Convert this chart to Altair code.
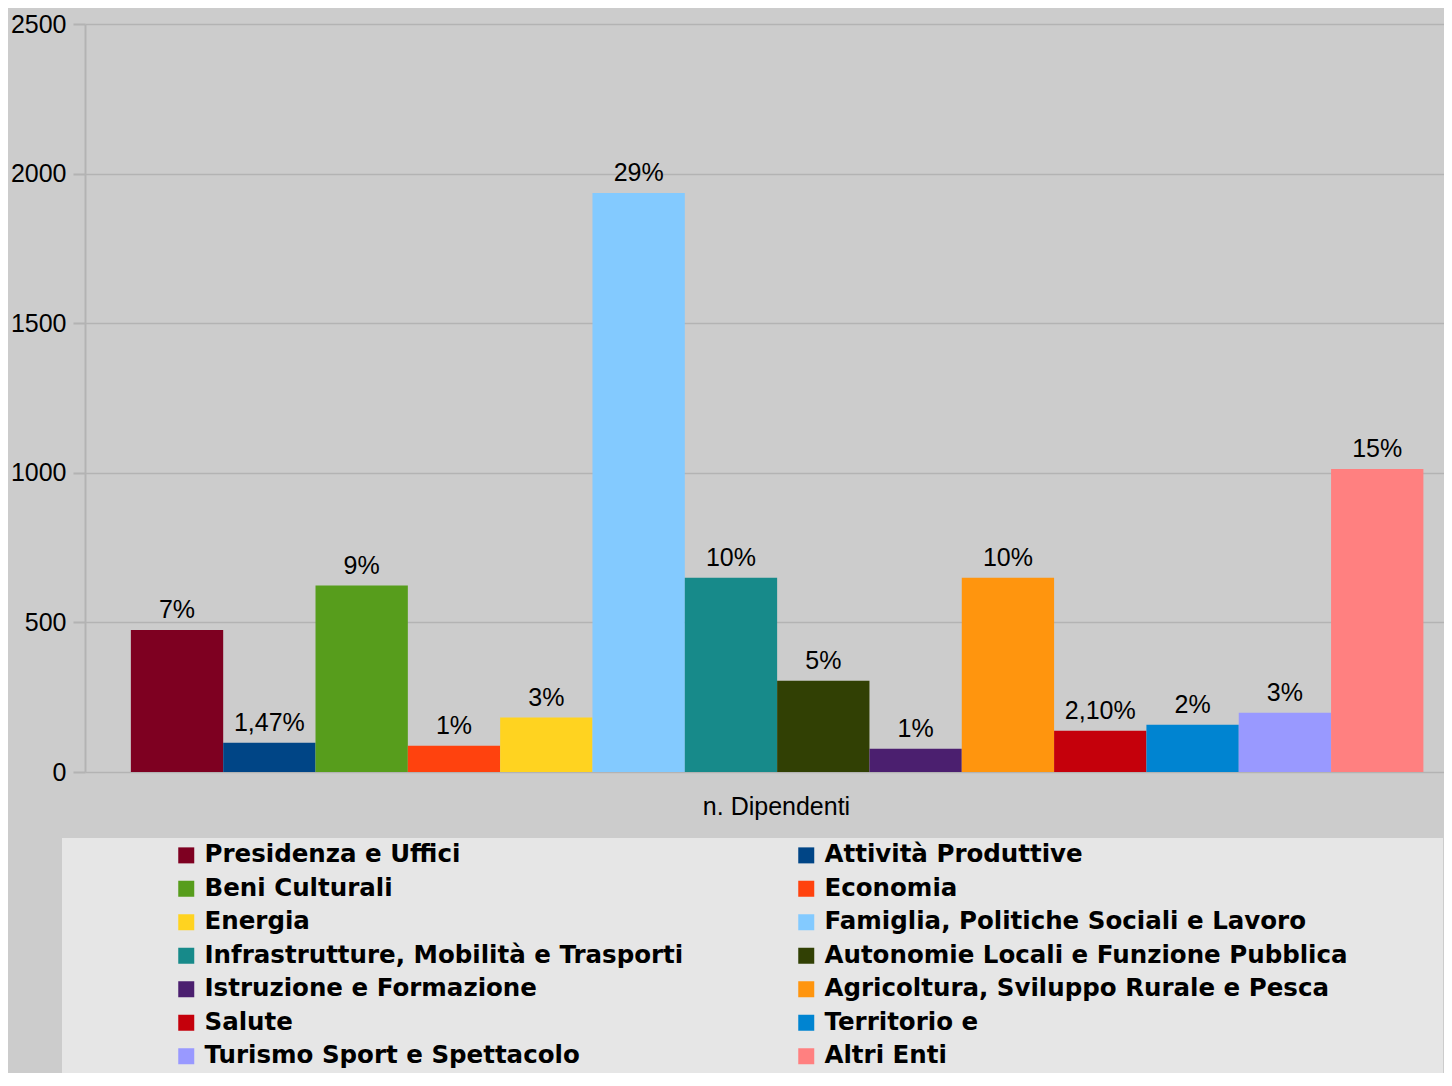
import altair as alt
import pandas as pd

departments = [
    "Presidenza e Uffici",
    "Attività Produttive",
    "Beni Culturali",
    "Economia",
    "Energia",
    "Famiglia, Politiche Sociali e Lavoro",
    "Infrastrutture, Mobilità e Trasporti",
    "Autonomie Locali e Funzione Pubblica",
    "Istruzione e Formazione",
    "Agricoltura, Sviluppo Rurale e Pesca",
    "Salute",
    "Territorio e",
    "Turismo Sport e Spettacolo",
    "Altri Enti",
]
employees = [475, 98, 623, 88, 182, 1935, 649, 305, 78, 649, 138, 158, 198, 1013]
pct_labels = ["7%", "1,47%", "9%", "1%", "3%", "29%", "10%", "5%", "1%", "10%",
              "2,10%", "2%", "3%", "15%"]
colors = ["#7e0021", "#004586", "#579d1c", "#ff420e", "#ffd320", "#83caff",
          "#178a8a", "#314004", "#4b1f6f", "#ff950e", "#c5000b", "#0084d1",
          "#9999ff", "#ff8080"]
y_ticks = [0, 500, 1000, 1500, 2000, 2500]
x_title = "n. Dipendenti"

# legend is filled column by column; reorder so it reads row by row
legend_order = departments[0::2] + departments[1::2]
legend_colors = colors[0::2] + colors[1::2]

df = pd.DataFrame({"dept": departments, "value": employees, "pct": pct_labels})

grid = "#b3b3b3"
y_scale = alt.Scale(domain=[0, 2500], nice=False)

x_enc = alt.X(
    "dept:N",
    sort=departments,
    scale=alt.Scale(paddingInner=0, paddingOuter=0.36, align=0.69),
    axis=alt.Axis(
        labels=False, ticks=False, domain=False, title=x_title,
        titleFont="Liberation Sans", titleFontSize=25, titleFontWeight="normal",
        titleColor="black", titlePadding=22, titleX=691, titleAlign="center",
        titleAnchor="start",
    ),
)
y_enc = alt.Y(
    "value:Q",
    scale=y_scale,
    axis=alt.Axis(
        values=y_ticks, format="d", title=None, tickSize=12, tickColor=grid,
        tickWidth=2, gridColor=grid, gridWidth=1.5, domainColor=grid,
        domainWidth=2, labelFont="Liberation Sans", labelFontSize=25,
        labelColor="black", labelPadding=7,
    ),
)

bars = alt.Chart(df).mark_bar(strokeWidth=0).encode(
    x=x_enc,
    y=y_enc,
    color=alt.Color(
        "dept:N",
        scale=alt.Scale(domain=legend_order, range=legend_colors),
        legend=alt.Legend(
            orient="none", legendX=-23, legendY=814, columns=2,
            title=" ", titleOrient="right", titleFontSize=1, titlePadding=90,
            fillColor="#e6e6e6", padding=5, symbolType="square", symbolSize=256,
            symbolStrokeWidth=0, symbolOpacity=1, symbolOffset=107,
            labelFont="DejaVu Sans", labelFontWeight="bold", labelFontSize=24.5,
            labelColor="black", labelOffset=6, rowPadding=8.5, columnPadding=3,
            labelLimit=2000,
        ),
    ),
)

labels = alt.Chart(df).mark_text(
    dy=-12, baseline="alphabetic", fontSize=25, font="Liberation Sans", color="black"
).encode(
    x=alt.X("dept:N", sort=departments),
    y=alt.Y("value:Q", scale=y_scale),
    text="pct:N",
)

chart = (
    alt.layer(bars, labels)
    .properties(width=1359, height=748,
                padding={"left": 2, "top": 4, "right": 0, "bottom": 0})
    .configure(background="#cccccc")
    .configure_view(stroke=None)
)

chart.save("out.html", embed_options={"renderer": "svg", "actions": False})
